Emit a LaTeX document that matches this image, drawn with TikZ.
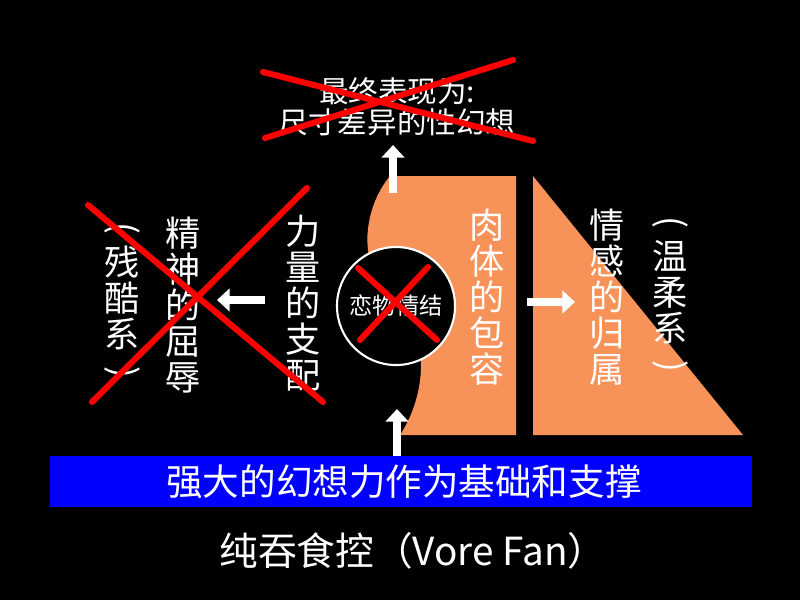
\documentclass[tikz,border=0pt]{standalone}
\usepackage{fontspec}
\newfontfamily\cjk{Noto Sans CJK SC}
\usetikzlibrary{arrows.meta,positioning}
\definecolor{flesh}{RGB}{247,146,89}
\definecolor{barblue}{RGB}{0,0,255}
\newcommand\vopen{\rotatebox[origin=c]{-90}{(}}
\newcommand\vclose{\rotatebox[origin=c]{-90}{)}}

\begin{document}
\begin{tikzpicture}[
  x=0.025cm, y=-0.025cm,
  vtext/.style={text=white, align=center, inner sep=0pt,
                font=\cjk\fontsize{25}{25.5}\selectfont},
  note/.style={text=white, align=center, inner sep=0pt,
               font=\cjk\fontsize{21}{22}\selectfont},
  cross/.style={draw=red, line width=4.3pt, line cap=round},
  arr/.style={draw=white, line width=5pt,
              -{Triangle[width=16pt,length=9pt]}}
]
\useasboundingbox (0,0) rectangle (800,600);
\fill[black] (0,0) rectangle (800,600);

% orange shapes
\fill[flesh] (390,176) -- (516,176) -- (516,435) -- (400,435)
  .. controls (410,420) and (421,395) .. (421,365)
  .. controls (421,330) and (380,300) .. (370,260)
  .. controls (363,235) and (370,200) .. (390,176) -- cycle;
\fill[flesh] (533,176) -- (743,435) -- (533,435) -- cycle;

\node[draw=white, line width=1.5pt, fill=black, circle,
      minimum size=2.95cm, inner sep=0pt] (knot) at (396,306) {};
\node[text=white, font=\cjk\fontsize{16.5}{18}\selectfont] at (knot) {恋物情结};

\node[note] (result) at (397,107) {最终表现为:\\尺寸差异的性幻想};

\node[vtext] (flesh) at (487,297) {肉\\体\\的\\包\\容};
\node[vtext] (belong) at (607,297) {情\\感\\的\\归\\属};
\node[vtext] (gentle) at (670,297) {\vopen\\温\\柔\\系\\\vclose};
\node[vtext] (power) at (303,303) {力\\量\\的\\支\\配};
\node[vtext] (shame) at (183,305) {精\\神\\的\\屈\\辱};
\node[vtext] (cruel) at (122,303) {\vopen\\残\\酷\\系\\\vclose};

\fill[barblue] (50,456) rectangle (752,507);
\node[text=white, font=\cjk\fontsize{26}{28}\selectfont] (base)
  at (404,482) {强大的幻想力作为基础和支撑};

\node[text=white, font=\cjk\fontsize{27.5}{30}\selectfont] (title)
  at (413,551) {纯吞食控（Vore Fan）};

\coordinate (upfoot) at (393,193);
\coordinate (uptip) at (393,145);
\coordinate (downfoot) at (397,456);
\coordinate (downtip) at (397,409);
\coordinate (lfoot) at (265,300);
\coordinate (ltip) at (217,300);
\coordinate (rfoot) at (527,302);
\coordinate (rtip) at (575,302);
\draw[arr] (upfoot) -- (uptip);
\draw[arr] (downfoot) -- (downtip);
\draw[arr] (lfoot) -- (ltip);
\draw[arr] (rfoot) -- (rtip);

% crossed out
\draw[cross] (263,72) -- (533,141);
\draw[cross] (265,138) -- (513,60);
\draw[cross] (358,268) -- (437,340);
\draw[cross] (360,340) -- (428,267);
\draw[cross] (88,205) -- (323,402);
\draw[cross] (92,402) -- (307,188);
\end{tikzpicture}
\end{document}
